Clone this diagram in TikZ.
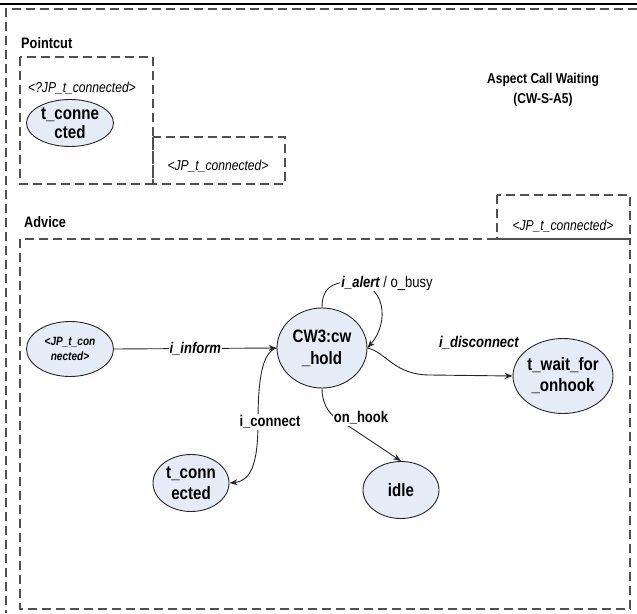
\documentclass[tikz,border=0pt]{standalone}
\usepackage{fontspec}
\setmainfont[FakeStretch=0.84]{Liberation Sans}
\usetikzlibrary{arrows.meta,shapes.geometric}
\definecolor{nodefill}{RGB}{230,236,247}
\definecolor{dashcol}{RGB}{80,80,80}
\begin{document}
\begin{tikzpicture}[x=1pt,y=-1pt,
  box/.style={draw=dashcol,line width=1.3pt,dash pattern=on 9pt off 5pt},
  state/.style={ellipse,draw=black!85,fill=nodefill,line width=0.9pt,inner sep=0pt},
  stxt/.style={font=\fontsize{18}{21}\selectfont\bfseries,align=center,inner sep=0pt},
  jtxt/.style={font=\fontsize{12}{15}\selectfont\bfseries\itshape,align=center,inner sep=0pt},
  title/.style={font=\fontsize{15.2}{18}\selectfont\bfseries,inner sep=0pt,anchor=west},
  ital/.style={font=\fontsize{14.4}{16}\selectfont\itshape,inner sep=0pt},
  lbl/.style={font=\fontsize{15.5}{17}\selectfont,inner sep=1pt,fill=white},
  arr/.style={draw=black!85,line width=0.9pt,-{Stealth[length=8pt,width=6pt]}},
]
\useasboundingbox (0,0) rectangle (637,613);
% frame
\draw[line width=2pt] (0,4) -- (637,4);
\draw[box] (637,9) -- (6,9) -- (6,613);

% Pointcut
\node[title] (pc) at (21,43) {Pointcut};
\draw[box] (20,57) rectangle (153,184);
\draw[box] (153,137) rectangle (285,184);
\node[ital] (pcjp) at (82,88) {<?JP\_t\_connected>};
\node[state,minimum width=87pt,minimum height=47pt,
  label={[stxt,font=\fontsize{18}{19}\selectfont\bfseries]center:t\_conne\\cted}] (ptc) at (70,123) {};
\node[ital] (pcjp2) at (218,166) {<JP\_t\_connected>};

% Title
\node[font=\fontsize{14.3}{20}\selectfont\bfseries,align=center,inner sep=0pt] (ttl) at (543,90) {Aspect Call Waiting\\(CW-S-A5)};

% Advice
\node[title] (adv) at (24,222) {Advice};
\draw[box] (20,239) rectangle (630,609);
\draw[box] (497,195) rectangle (630,239);
\node[ital] (advjp) at (563,226) {<JP\_t\_connected>};

% states
\node[state,minimum width=87pt,minimum height=55pt,
  label={[jtxt]center:<JP\_t\_con\\nected>}] (jp) at (70,349) {};
\node[state,minimum width=90pt,minimum height=80pt,
  label={[stxt,font=\fontsize{18}{22}\selectfont\bfseries]center:CW3:cw\\\_hold}] (cw) at (322,348) {};
\node[state,minimum width=100pt,minimum height=75pt,
  label={[stxt]center:t\_wait\_for\\\_onhook}] (tw) at (563,376) {};
\node[state,minimum width=76pt,minimum height=57pt,
  label={[stxt]center:t\_conn\\ected}] (tc) at (191,483) {};
\node[state,minimum width=76pt,minimum height=57pt,
  label={[stxt]center:idle}] (idle) at (401,490) {};

% transitions
\draw[arr] (jp.east) -- node[lbl]{\bfseries\itshape i\_inform} (cw.west);
\draw[arr] (cw.west) .. controls (262,352) and (258,380) .. (258,422)
  .. controls (258,466) and (250,481) .. (tc.east);
\node[lbl] (connlbl) at (270,422) {\bfseries i\_connect};
\draw[arr] (cw.north) .. controls (322,290) and (330,282) .. (350,282)
  .. controls (386,282) and (390,322) .. (cw.east);
\node[lbl] (alertlbl) at (387,283) {\bfseries\itshape i\_alert\mdseries\upshape{} / o\_busy};
\draw[arr] (cw.east) .. controls (386,352) and (394,375) .. (430,375) -- (tw.west);
\node[lbl,fill=none] (disclbl) at (479,343) {\bfseries\itshape i\_disconnect};
\draw[arr] (cw.south) .. controls (322,405) and (330,418) .. (350,427) -- (idle.north);
\node[lbl] (hooklbl) at (361,418) {\bfseries on\_hook};
\end{tikzpicture}
\end{document}
